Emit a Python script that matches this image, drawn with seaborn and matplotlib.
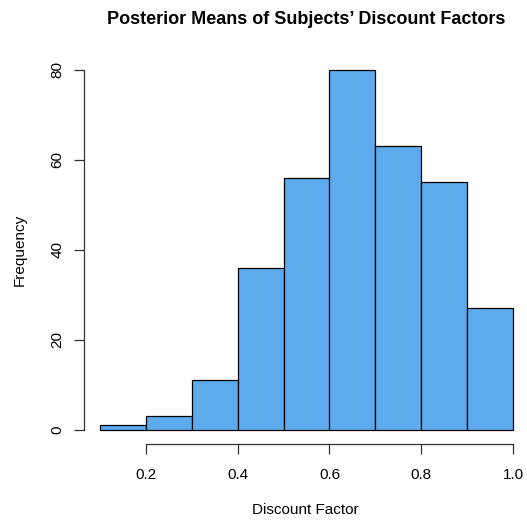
import matplotlib
matplotlib.use("Agg")
import matplotlib.pyplot as plt
import seaborn as sns

# histogram bins (discount factor) and frequencies
bin_edges = [0.1, 0.2, 0.3, 0.4, 0.5, 0.6, 0.7, 0.8, 0.9, 1.0]
counts = [1, 3, 11, 36, 56, 80, 63, 55, 27]
x_ticks = [0.2, 0.4, 0.6, 0.8, 1.0]
y_ticks = [0, 20, 40, 60, 80]

bin_mids = [(a + b) / 2 for a, b in zip(bin_edges[:-1], bin_edges[1:])]

sns.set_style("white")
plt.rcParams['font.family'] = ['Liberation Sans', 'DejaVu Sans']
plt.rcParams['text.color'] = 'black'
plt.rcParams['axes.labelcolor'] = 'black'
plt.rcParams['xtick.color'] = 'black'
plt.rcParams['ytick.color'] = 'black'

W, H = 527, 520
fig = plt.figure(figsize=(W / 100, H / 100), dpi=100)

# plot region in pixels (R style, 4% padding around data range)
left_px, right_px = 84, 527
top_px, bot_px = 55.6, 444.4
ax = fig.add_axes([left_px / W, 1 - bot_px / H,
                   (right_px - left_px) / W, (bot_px - top_px) / H])

sns.histplot(x=bin_mids, weights=counts, bins=bin_edges, ax=ax,
             color='#5DABEC', edgecolor='black', linewidth=0.9, alpha=1)

px_per_unit = 458.75
ax.set_xlim(0.2 - (146 - left_px) / px_per_unit, 0.2 + (right_px - 146) / px_per_unit)
ax.set_ylim(-3.2, 83.2)

for s in ['top', 'right']:
    ax.spines[s].set_visible(False)
ax.spines['bottom'].set_bounds(0.2, 1.0)
ax.spines['left'].set_bounds(0, 80)
for s in ['bottom', 'left']:
    ax.spines[s].set_color('#333333')
    ax.spines[s].set_linewidth(0.9)

ax.set_xticks(x_ticks)
ax.set_xticklabels([f"{t:.1f}" for t in x_ticks])
ax.set_yticks(y_ticks)
ax.set_yticklabels([str(t) for t in y_ticks], rotation=90, va='center')
ax.tick_params(axis='both', direction='out', length=7, width=0.9,
               color='#333333', labelcolor='black', labelsize=11,
               bottom=True, left=True)
ax.tick_params(axis='x', pad=10)
ax.tick_params(axis='y', pad=7)

ax.set_xlabel('Discount Factor', fontsize=11, labelpad=15)
ax.set_ylabel('Frequency', fontsize=11, labelpad=17)
fig.text(306 / W, 1 - 19 / H, "Posterior Means of Subjects\u2019 Discount Factors",
         fontsize=13, fontweight='bold', ha='center', va='center')

fig.savefig('out.png', dpi=100)
